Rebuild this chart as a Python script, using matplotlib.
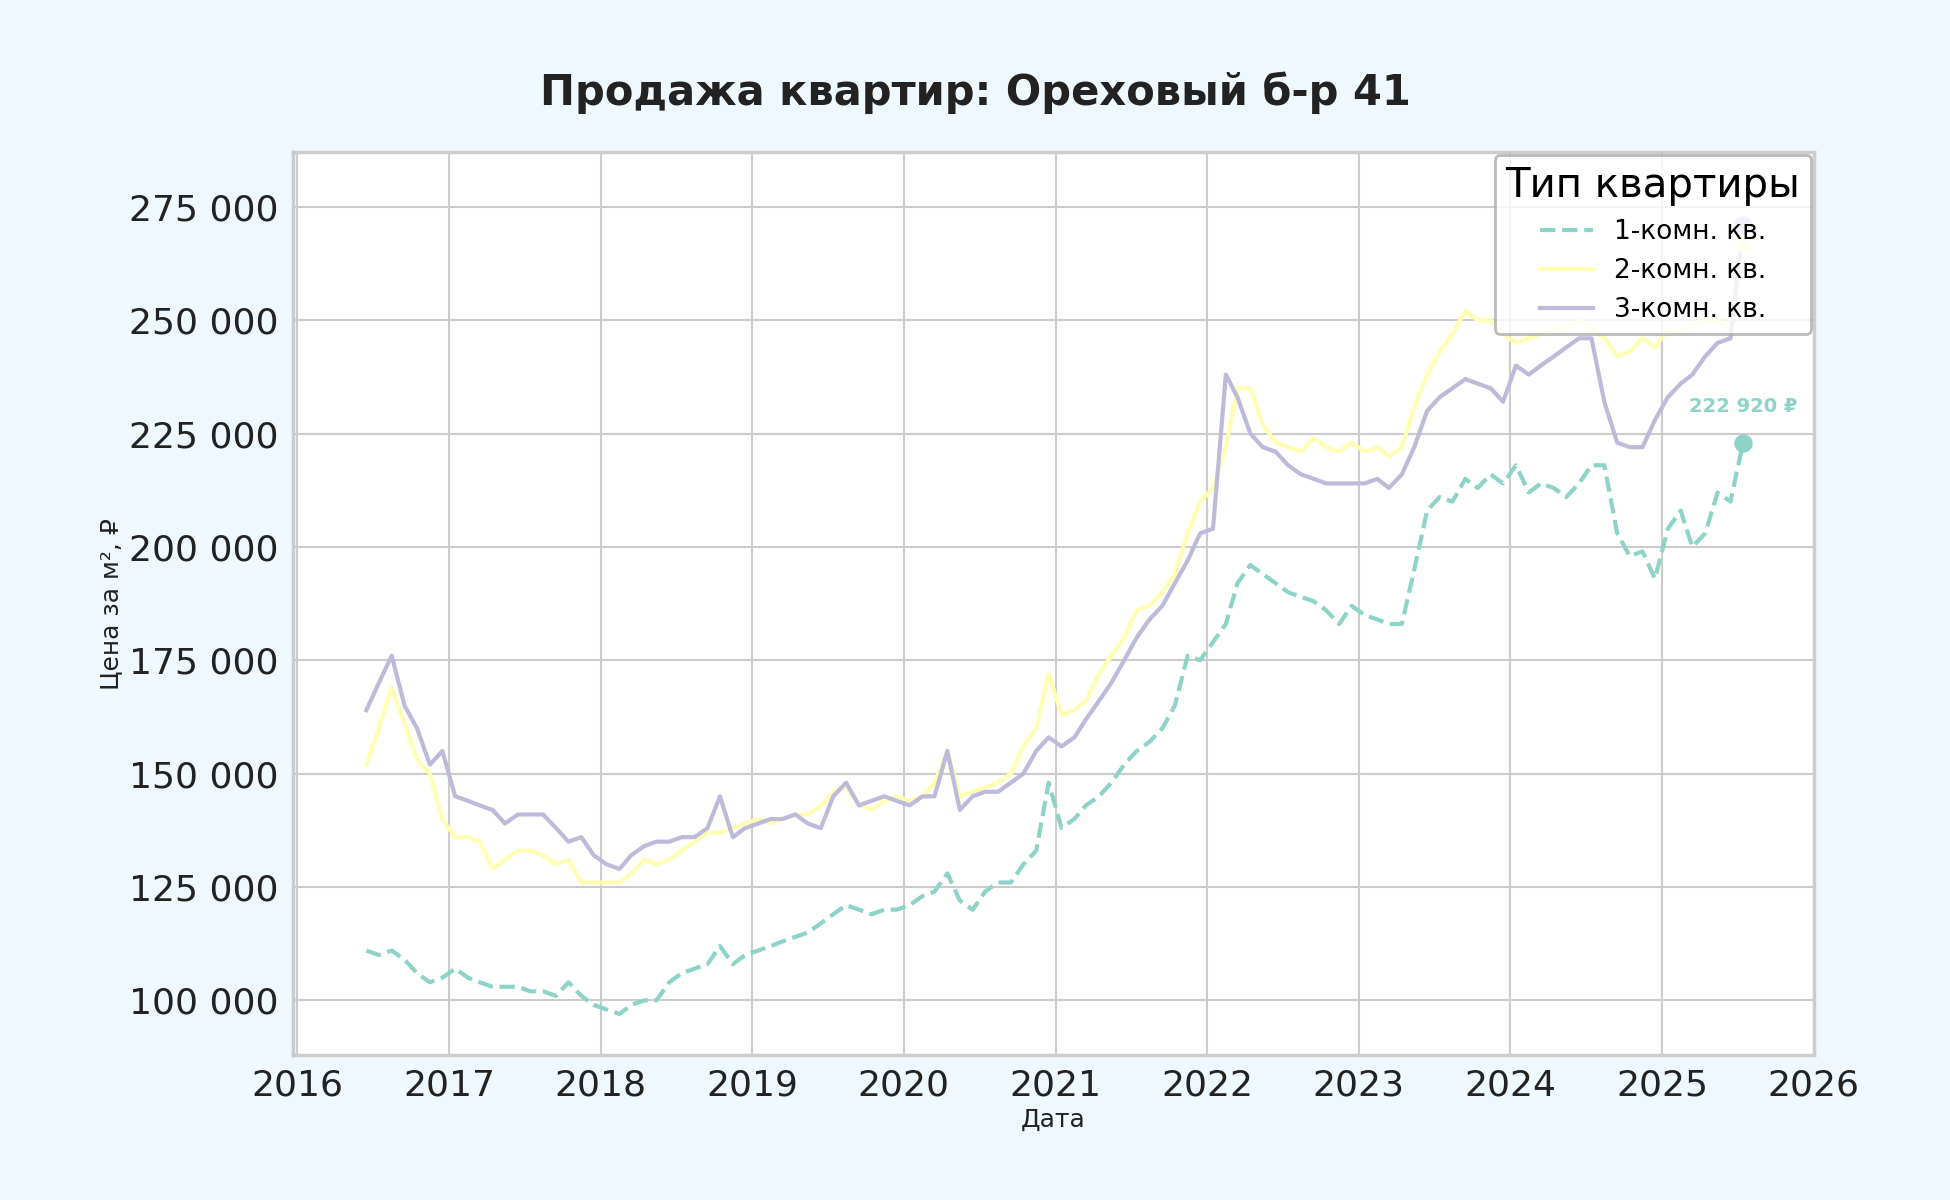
import matplotlib
matplotlib.use("Agg")
import matplotlib.pyplot as plt
import pandas as pd

dates = pd.date_range("2016-06-01", periods=110, freq="MS") + pd.Timedelta(days=14)

one_room = [111,110,111,109,106,104,105,
 107,105,104,103,103,103,102,102,101,104,101,99,
 98,97,99,100,100,104,106,107,108,112,108,110,
 111,112,113,114,115,117,119,121,120,119,120,120,
 121,123,124,128,122,120,124,126,126,130,133,148,
 138,140,143,145,148,152,155,157,160,165,176,175,
 179,183,192,196,194,192,190,189,188,186,183,187,
 185,184,183,183,195,208,211,210,215,213,216,214,
 218,212,214,213,211,214,218,218,203,198,199,193,
 204,208,200,203,212,210,222.92]
two_room = [152,160,169,161,153,150,140,
 136,136,135,129,131,133,133,132,130,131,126,126,
 126,126,128,131,130,131,133,135,137,137,138,139,
 140,139,140,141,141,143,146,147,143,142,144,145,
 144,145,148,155,145,146,147,148,150,156,160,172,
 163,164,166,172,176,180,186,187,190,194,203,210,
 213,222,235,235,227,223,222,221,224,222,221,223,
 221,222,220,222,231,238,243,247,252,250,250,247,
 245,246,247,248,248,250,248,246,242,243,246,244,
 248,247,249,250,250,248,267]
three_room = [164,170,176,165,160,152,155,
 145,144,143,142,139,141,141,141,138,135,136,132,
 130,129,132,134,135,135,136,136,138,145,136,138,
 139,140,140,141,139,138,145,148,143,144,145,144,
 143,145,145,155,142,145,146,146,148,150,155,158,
 156,158,162,166,170,175,180,184,187,192,197,203,
 204,238,233,225,222,221,218,216,215,214,214,214,
 214,215,213,216,222,230,233,235,237,236,235,232,
 240,238,240,242,244,246,246,232,223,222,222,228,
 233,236,238,242,245,246,271]
labels = ["1-комн. кв.", "2-комн. кв.", "3-комн. кв."]
colors = ["#8dd3c7", "#ffffb3", "#bebada"]

fig = plt.figure(figsize=(19.5, 12), dpi=100, facecolor="#f0f8ff")
ax = fig.add_axes([0.15, 0.121, 0.78, 0.752])
ax.set_facecolor("white")
series = [one_room, two_room, three_room]
styles = ["--", "-", "-"]
for vals, lab, c, ls in zip(series, labels, colors, styles):
    v = [x * 1000 for x in vals]
    ax.plot(dates, v, ls, color=c, lw=3, label=lab)
    ax.scatter([dates[-1]], [v[-1]], color=c, s=150, zorder=5)
ax.annotate("222 920 ₽", (dates[-1], one_room[-1] * 1000), xytext=(0, 22),
            textcoords="offset points", ha="center", color=colors[0],
            fontsize=14, fontweight="bold")
ax.set_xlim(pd.Timestamp("2015-12-20"), pd.Timestamp("2026-01-01"))
ax.set_ylim(88000, 287000)
ax.set_yticks(range(100000, 275001, 25000))
ax.set_yticklabels([f"{t:,}".replace(",", " ") for t in range(100000, 275001, 25000)])
ax.set_xticks([pd.Timestamp(f"{y}-01-01") for y in range(2016, 2027)])
ax.set_xticklabels([str(y) for y in range(2016, 2027)])
ax.tick_params(labelsize=26, colors="#222222", length=0, pad=10)
ax.grid(True, color="#cccccc", lw=1.5)
for s in ax.spines.values():
    s.set_color("#cccccc"); s.set_linewidth(2.5)
ax.set_xlabel("Дата", fontsize=18, color="#222222")
ax.set_ylabel("Цена за м², ₽", fontsize=18, color="#222222")
fig.suptitle("Продажа квартир: Ореховый б-р 41", fontsize=30, fontweight="bold",
             color="#222222", y=0.94)
leg = ax.legend(title="Тип квартиры", loc="upper right", fontsize=19,
                title_fontsize=29, frameon=True, edgecolor="#aaaaaa",
                borderaxespad=0.1, framealpha=0.8)
leg.get_frame().set_linewidth(2)
fig.savefig("out.png", dpi=100, facecolor=fig.get_facecolor())
